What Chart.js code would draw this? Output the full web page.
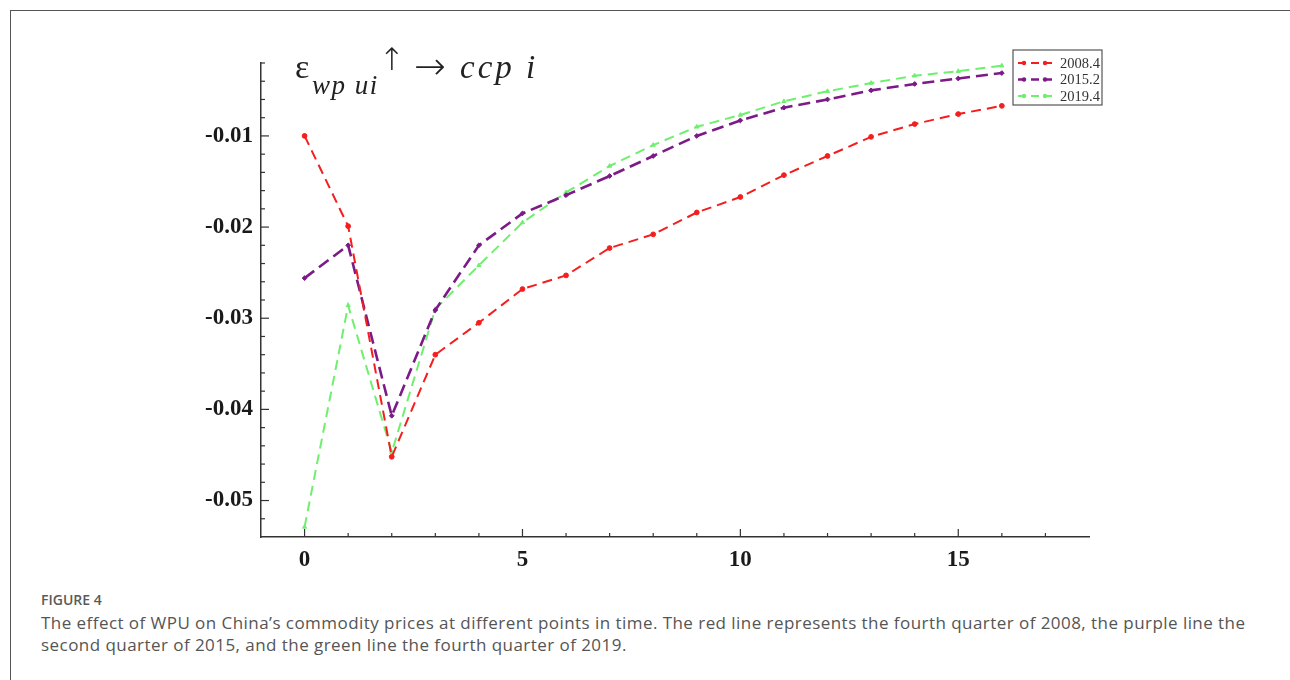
<!DOCTYPE html>
<html>
<head>
<meta charset="utf-8">
<script src="https://cdn.jsdelivr.net/npm/chart.js@4.4.1/dist/chart.umd.min.js"></script>
<style>
  html, body { margin: 0; padding: 0; background: #fff; }
  body { width: 1290px; height: 680px; position: relative; overflow: hidden; }
  #frame { position: absolute; left: 10px; top: 10px; width: 1290px; height: 680px;
           border-left: 1px solid #555; border-top: 1px solid #555; }
  #box { position: absolute; left: 0; top: 0; width: 1290px; height: 590px; }
  .ttl { position: absolute; font-family: "Liberation Serif", serif; color: #222; white-space: nowrap; line-height: 1; }
  #caption { position: absolute; left: 41px; top: 591px; width: 1245px;
             font-family: "Open Sans", sans-serif; color: #555; }
  #caption .fig { font-size: 14px; line-height: 18px; font-weight: 600; color: #5a5a5a; }
  #caption .txt { font-size: 17px; line-height: 22px; letter-spacing: 0.45px; margin-top: 3px; }
</style>
</head>
<body>
<div id="frame"></div>
<div id="box"><canvas id="grafico"></canvas></div>

<!-- titulo dentro del grafico -->
<div class="ttl" style="left:295px; top:50px; font-size:34px;">ε</div>
<div class="ttl" style="left:312px; top:72px; font-size:27px; font-style:italic; letter-spacing:1.5px;">wp ui</div>
<div class="ttl" style="left:379px; top:44px; font-size:31px; font-family:'DejaVu Sans'; font-weight:200;">↑</div>
<div class="ttl" style="left:414px; top:47px; font-size:38px; font-family:'DejaVu Sans'; font-weight:200;">→</div>
<div class="ttl" style="left:460px; top:51px; font-size:33px; font-style:italic; letter-spacing:3px;">ccp i</div>

<div id="caption">
  <div class="fig">FIGURE 4</div>
  <div class="txt">The effect of WPU on China’s commodity prices at different points in time. The red line represents the fourth quarter of 2008, the purple line the second quarter of 2015, and the green line the fourth quarter of 2019.</div>
</div>

<script>
// datos
const periodos = [0, 1, 2, 3, 4, 5, 6, 7, 8, 9, 10, 11, 12, 13, 14, 15, 16];
const series = ["2008.4", "2015.2", "2019.4"];
const valores2008 = [-0.0100, -0.0199, -0.0452, -0.0340, -0.0305, -0.0268, -0.0253, -0.0223, -0.0208,
  -0.0184, -0.0167, -0.0143, -0.0122, -0.0101, -0.0087, -0.0076, -0.0067];
const valores2015 = [-0.0256, -0.0220, -0.0407, -0.0291, -0.0220, -0.0185, -0.0165, -0.0144, -0.0122,
  -0.0100, -0.0083, -0.0069, -0.0060, -0.0050, -0.0043, -0.0037, -0.0031];
const valores2019 = [-0.0529, -0.0286, -0.0447, -0.0290, -0.0242, -0.0195, -0.0162, -0.0133, -0.0110,
  -0.0090, -0.0077, -0.0062, -0.0051, -0.0042, -0.0034, -0.0029, -0.0023];
const etiquetasX = [0, 5, 10, 15];
const etiquetasY = [-0.01, -0.02, -0.03, -0.04, -0.05];

const colores = ["#f51d1d", "#7c1a88", "#6ef06e"];
const puntos = ["circle", "rectRot", "triangle"];
const grosor = [2, 2.6, 2];
const guiones = [[10, 6], [12, 6], [10, 6]];

function toPoints(vals) {
  return vals.map((v, i) => ({ x: periodos[i], y: v }));
}

// marcas de los ejes hacia adentro (como en la figura original)
const marcasEjes = {
  id: "marcasEjes",
  afterDraw(chart) {
    const ctx = chart.ctx;
    const area = chart.chartArea;
    const sx = chart.scales.x;
    const sy = chart.scales.y;
    ctx.save();
    ctx.strokeStyle = "#333";
    ctx.lineWidth = 1.2;
    sy.ticks.forEach((t) => {
      const y = sy.getPixelForValue(t.value);
      if (Math.abs(y - area.bottom) < 2) return;
      const mayor = Math.round(t.value * 1000) % 10 === 0;
      ctx.beginPath();
      ctx.moveTo(area.left, y);
      ctx.lineTo(area.left + (mayor ? 8 : 4), y);
      ctx.stroke();
    });
    sx.ticks.forEach((t) => {
      if (t.value < 0 || t.value >= 18) return;
      const x = sx.getPixelForValue(t.value);
      const mayor = t.value % 5 === 0;
      ctx.beginPath();
      ctx.moveTo(x, area.bottom);
      ctx.lineTo(x, area.bottom - (mayor ? 8 : 4));
      ctx.stroke();
    });
    ctx.restore();
  },
};

// leyenda con recuadro, arriba a la derecha
const leyenda = {
  id: "leyenda",
  afterDraw(chart) {
    const ctx = chart.ctx;
    const x0 = 1013, y0 = 50, w = 89, h = 55;
    ctx.save();
    ctx.fillStyle = "#fff";
    ctx.fillRect(x0, y0, w, h);
    ctx.strokeStyle = "#555";
    ctx.lineWidth = 1.2;
    ctx.strokeRect(x0, y0, w, h);
    chart.data.datasets.forEach((ds, i) => {
      const y = y0 + 13 + i * 16.5;
      ctx.strokeStyle = ds.borderColor;
      ctx.lineWidth = ds.borderWidth;
      ctx.setLineDash([8, 5]);
      ctx.beginPath();
      ctx.moveTo(x0 + 5, y);
      ctx.lineTo(x0 + 44, y);
      ctx.stroke();
      ctx.setLineDash([]);
      ctx.fillStyle = ds.borderColor;
      [x0 + 11, x0 + 32].forEach((px) => {
        ctx.beginPath();
        ctx.arc(px, y, 2.2, 0, Math.PI * 2);
        ctx.fill();
      });
      ctx.fillStyle = "#333";
      ctx.font = "14.5px 'Liberation Serif'";
      ctx.textBaseline = "middle";
      ctx.fillText(ds.label, x0 + 47, y + 1);
    });
    ctx.restore();
  },
};

const datos = [valores2008, valores2015, valores2019];

new Chart(document.getElementById("grafico"), {
  type: "line",
  data: {
    datasets: series.map((nombre, i) => ({
      label: nombre,
      data: toPoints(datos[i]),
      borderColor: colores[i],
      backgroundColor: colores[i],
      borderWidth: grosor[i],
      borderDash: guiones[i],
      pointStyle: puntos[i],
      pointRadius: 2.4,
      pointBorderWidth: 1,
      fill: false,
      tension: 0,
    })),
  },
  options: {
    responsive: true,
    maintainAspectRatio: false,
    animation: false,
    layout: { padding: { left: 161, right: 201, top: 63, bottom: 13 } },
    plugins: {
      legend: { display: false },
      tooltip: { enabled: false },
    },
    scales: {
      x: {
        type: "linear",
        min: -1,
        max: 18,
        afterFit: (s) => { s.height = 40; },
        grid: { display: true, drawOnChartArea: false, drawTicks: false },
        border: { display: true, color: "#333", width: 1.5 },
        ticks: {
          stepSize: 1,
          autoSkip: false,
          maxRotation: 0,
          padding: 9,
          color: "#1a1a1a",
          font: { family: "'Liberation Serif'", size: 23, weight: "bold" },
          callback: (v) => (etiquetasX.includes(v) ? String(v) : ""),
        },
      },
      y: {
        min: -0.054,
        max: -0.002,
        afterFit: (s) => { s.width = 100; },
        grid: { display: true, drawOnChartArea: false, drawTicks: false },
        border: { display: true, color: "#333", width: 1.5 },
        ticks: {
          stepSize: 0.002,
          autoSkip: false,
          padding: 8,
          color: "#1a1a1a",
          font: { family: "'Liberation Serif'", size: 23, weight: "bold" },
          callback: (v) => {
            const k = Math.round(v * 100000) / 100000;
            return etiquetasY.some((e) => Math.abs(e - k) < 1e-6) ? k.toFixed(2) : "";
          },
        },
      },
    },
  },
  plugins: [marcasEjes, leyenda],
});
</script>
</body>
</html>
